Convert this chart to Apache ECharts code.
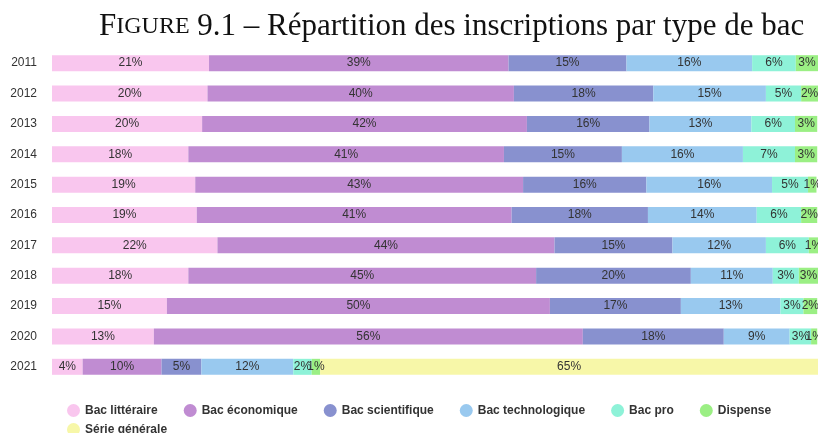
<!DOCTYPE html>
<html>
<head>
<meta charset="utf-8">
<script src="https://cdn.jsdelivr.net/npm/echarts@6/dist/echarts.min.js"></script>
<style>
    html, body { margin: 0; padding: 0; background: #fff; }
</style>
</head>
<body>
<div id="main" style="width: 818px; height: 433px;"></div>

<script type="text/javascript">
    // années (axe vertical)
    var annees = ['2011', '2012', '2013', '2014', '2015', '2016', '2017', '2018', '2019', '2020', '2021'];

    // part de chaque type de bac, en %
    var litteraire    = [20.5, 20.3, 19.6, 17.8, 18.7, 18.9, 21.6, 17.8, 15.0, 13.3, 4.0];
    var economique    = [39.1, 40.0, 42.4, 41.2, 42.8, 41.1, 44.0, 45.4, 50.0, 56.0, 10.3];
    var scientifique  = [15.4, 18.2, 16.0, 15.4, 16.1, 17.8, 15.4, 20.2, 17.1, 18.4, 5.2];
    var technologique = [16.4, 14.7, 13.3, 15.8, 16.4, 14.2, 12.2, 10.7, 13.0, 8.6, 12.0];
    var bacpro        = [5.7, 4.6, 5.7, 6.8, 4.7, 5.8, 5.6, 3.4, 3.0, 2.8, 2.4];
    var dispense      = [2.9, 2.2, 2.9, 2.9, 1.1, 2.1, 1.3, 2.6, 1.8, 0.8, 1.1];
    var generale      = [0, 0, 0, 0, 0, 0, 0, 0, 0, 0, 65.0];

    var noms = ['Bac littéraire', 'Bac économique', 'Bac scientifique', 'Bac technologique', 'Bac pro', 'Dispense', 'Série générale'];
    var couleurs = ['#f9c6ee', '#c08cd2', '#8891cf', '#99c9ef', '#8ef2d8', '#9bef84', '#f7f7a8'];
    var valeurs = [litteraire, economique, scientifique, technologique, bacpro, dispense, generale];

    var myChart = echarts.init(document.getElementById('main'));

    var series = noms.map(function (nom, i) {
        return {
            name: nom,
            type: 'bar',
            stack: 'total',
            barWidth: 16,
            data: valeurs[i],
            itemStyle: { color: couleurs[i] },
            label: {
                show: true,
                position: 'inside',
                color: '#333',
                fontSize: 12,
                fontFamily: 'Liberation Sans, Arial',
                formatter: function (p) {
                    return p.value > 0 ? Math.round(p.value) + '%' : '';
                }
            }
        };
    });

    var legendeTexte = {
        fontFamily: 'Liberation Sans, Arial',
        fontSize: 12,
        fontWeight: 'bold',
        color: '#333'
    };

    var option = {
        title: {
            text: '{big|F}{sc|IGURE} 9.1 – Répartition des inscriptions par type de bac',
            left: 94,
            top: 6,
            textStyle: {
                fontFamily: 'Liberation Serif, serif',
                fontWeight: 'normal',
                fontSize: 31,
                color: '#111',
                rich: {
                    big: { fontFamily: 'Liberation Serif, serif', fontSize: 31, color: '#111' },
                    sc: { fontFamily: 'Liberation Serif, serif', fontSize: 24, color: '#111' }
                }
            }
        },
        // la légende est sur deux lignes : les six premiers types, puis la série générale
        legend: [{
            left: 62,
            top: 399,
            icon: 'circle',
            itemWidth: 13,
            itemHeight: 13,
            itemGap: 26,
            textStyle: legendeTexte,
            data: noms.slice(0, 6)
        }, {
            left: 62,
            top: 418,
            icon: 'circle',
            itemWidth: 13,
            itemHeight: 13,
            textStyle: legendeTexte,
            data: noms.slice(6)
        }],
        grid: {
            left: 52,
            right: 0,
            top: 48,
            bottom: 51
        },
        xAxis: {
            type: 'value',
            min: 0,
            max: 100,
            show: false
        },
        yAxis: {
            type: 'category',
            inverse: true,
            data: annees,
            axisLine: { show: false },
            axisTick: { show: false },
            axisLabel: {
                color: '#333',
                fontSize: 12,
                fontFamily: 'Liberation Sans, Arial',
                margin: 15
            }
        },
        series: series
    };

    myChart.setOption(option);
</script>
</body>
</html>
